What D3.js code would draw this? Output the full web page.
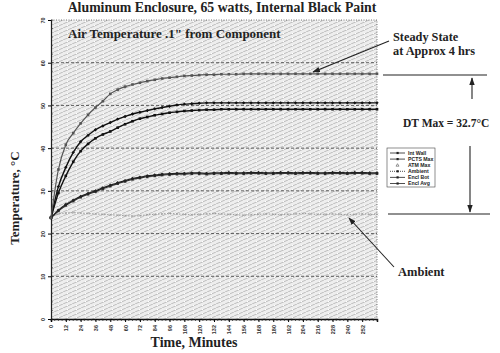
<!DOCTYPE html>
<html><head><meta charset="utf-8">
<script src="https://cdn.jsdelivr.net/npm/d3@7"></script>
<style>body{margin:0;background:#fff}svg{display:block}</style>
</head><body><svg id="c" width="500" height="353"></svg>
<script>
const times = [0,6,12,18,24,30,36,42,48,54,60,66,72,78,84,90,96,102,108,114,120,126,132,138,144,150,156,162,168,174,180,186,192,198,204,210,216,222,228,234,240,246,252,258,264];
const atmMax  = [23.7,35.0,40.8,43.5,45.8,47.8,49.5,51.0,52.7,53.7,54.4,54.9,55.3,55.7,56.0,56.3,56.5,56.7,56.9,57.0,57.1,57.2,57.2,57.3,57.3,57.3,57.4,57.4,57.4,57.4,57.4,57.4,57.4,57.4,57.4,57.4,57.4,57.4,57.4,57.4,57.4,57.4,57.4,57.4,57.4];
const pctsMax = [23.7,31.0,35.5,39.0,41.5,43.0,44.3,45.2,46.0,46.8,47.4,48.0,48.4,48.8,49.2,49.5,49.8,50.1,50.3,50.4,50.5,50.6,50.6,50.6,50.6,50.6,50.6,50.6,50.6,50.6,50.6,50.6,50.6,50.6,50.6,50.6,50.6,50.6,50.6,50.6,50.6,50.6,50.6,50.6,50.6];
const intWall = [23.7,29.5,33.5,36.8,39.3,41.0,42.3,43.2,43.9,44.8,45.6,46.3,46.9,47.3,47.7,48.0,48.3,48.5,48.7,48.8,48.9,49.0,49.0,49.1,49.1,49.1,49.1,49.1,49.1,49.1,49.1,49.1,49.1,49.1,49.1,49.1,49.1,49.1,49.1,49.1,49.1,49.1,49.1,49.1,49.1];
const enclBot = [23.7,25.5,26.8,27.8,28.7,29.4,30.0,30.7,31.3,31.9,32.4,32.9,33.2,33.5,33.7,33.9,34.0,34.1,34.1,34.2,34.2,34.1,34.2,34.2,34.3,34.2,34.2,34.3,34.3,34.2,34.2,34.3,34.3,34.2,34.3,34.3,34.2,34.2,34.3,34.3,34.2,34.3,34.3,34.2,34.2];
const enclAvg = [23.7,25.3,26.6,27.6,28.5,29.2,29.8,30.5,31.1,31.7,32.2,32.7,33.0,33.3,33.5,33.7,33.8,33.9,33.9,34.0,34.0,33.9,34.0,34.0,34.1,34.0,34.0,34.1,34.1,34.0,34.0,34.1,34.1,34.0,34.1,34.1,34.0,34.0,34.1,34.1,34.0,34.1,34.1,34.0,34.0];
const ambient = [23.8,24.6,24.8,24.9,24.8,24.7,24.6,24.5,24.4,24.3,24.2,24.1,24.2,24.4,24.5,24.6,24.7,24.6,24.5,24.4,24.5,24.6,24.7,24.6,24.5,24.4,24.3,24.4,24.5,24.6,24.5,24.4,24.5,24.6,24.7,24.6,24.5,24.5,24.6,24.5,24.4,24.5,24.6,24.5,24.5];
const legendNames = ["Int Wall","PCTS Max","ATM Max","Ambient","Encl Bot","Encl Avg"];
const xTicks = d3.range(0, 253, 12);
const yTicks = [0,10,20,30,40,50,60,70];

const svg = d3.select("#c");
const x = d3.scaleLinear().domain([0,264]).range([51,377]);
const y = d3.scaleLinear().domain([0,70]).range([319,20]);

// hatch pattern
const defs = svg.append("defs");
const pat = defs.append("pattern").attr("id","hatch").attr("patternUnits","userSpaceOnUse").attr("width",9).attr("height",4);
pat.append("rect").attr("width",9).attr("height",4).attr("fill","#eeeeee");
pat.append("path").attr("d","M0,4 L9,0 M-9,4 L0,0 M9,4 L18,0").attr("stroke","#a8a8a8").attr("stroke-width",0.7);
pat.append("rect").attr("x",4).attr("y",1).attr("width",1).attr("height",1).attr("fill","#fff");

svg.append("rect").attr("x",x(0)).attr("y",y(70)).attr("width",x(264)-x(0)).attr("height",y(0)-y(70)).attr("fill","url(#hatch)");
svg.append("path").attr("d",`M${x(0)},${y(70)}H${x(264)}V${y(0)}`).attr("fill","none").attr("stroke","#555").attr("stroke-width",0.8).attr("stroke-dasharray","1,1.5");
svg.append("g").selectAll("line").data(yTicks.filter(d=>d>0 && d<70)).join("line")
  .attr("x1",x(0)).attr("x2",x(264)).attr("y1",d=>y(d)).attr("y2",d=>y(d))
  .attr("stroke","#222").attr("stroke-width",0.7).attr("stroke-dasharray","3,2");

// axes
const yAx = svg.append("g").attr("transform",`translate(${x(0)},0)`).call(d3.axisLeft(y).tickValues(yTicks).tickSize(3).tickFormat(d3.format("d")));
yAx.select(".domain").attr("stroke","#222").attr("stroke-width",1.2);
yAx.selectAll("text").attr("font-family","Liberation Sans").attr("font-size",5.5).attr("font-weight","bold").attr("fill","#333")
   .attr("x",0).attr("y",0).attr("dy",null).attr("text-anchor","middle")
   .attr("transform","translate(-8,0) rotate(-90) translate(0,2)");
const xAx = svg.append("g").attr("transform",`translate(0,${y(0)})`).call(d3.axisBottom(x).tickValues(xTicks).tickSize(3).tickFormat(d3.format("d")));
xAx.select(".domain").attr("stroke","#111").attr("stroke-width",1.5);
xAx.selectAll("text").attr("font-family","Liberation Sans").attr("font-size",5.5).attr("font-weight","bold").attr("fill","#333")
   .attr("transform","rotate(-90)").attr("x",-6).attr("y",0).attr("dy","0.35em").attr("text-anchor","end");
svg.append("g").selectAll("line").data(d3.range(0,265,3)).join("line")
  .attr("x1",d=>x(d)).attr("x2",d=>x(d)).attr("y1",y(0)).attr("y2",y(0)+2).attr("stroke","#222").attr("stroke-width",0.7);
svg.append("g").selectAll("line").data(d3.range(0,71,2)).join("line")
  .attr("x1",x(0)).attr("x2",x(0)+2).attr("y1",d=>y(d)).attr("y2",d=>y(d)).attr("stroke","#333").attr("stroke-width",0.6);

// series
const line = d3.line().x((d,i)=>x(times[i])).y(d=>y(d)).curve(d3.curveMonotoneX);
const series = [
  {v:ambient, c:"#9a9a9a", w:1, dash:"1.5,1.5", m:"x"},
  {v:enclAvg, c:"#333", w:1.2, m:"sq"},
  {v:enclBot, c:"#222", w:1.2, m:"d"},
  {v:intWall, c:"#111", w:1.4, m:"sq"},
  {v:pctsMax, c:"#111", w:1.4, m:"d"},
  {v:atmMax, c:"#555", w:1.2, m:"sq"}
];
series.forEach(s=>{
  svg.append("path").attr("d",line(s.v)).attr("fill","none").attr("stroke",s.c).attr("stroke-width",s.w).attr("stroke-dasharray",s.dash||null);
  const g = svg.append("g");
  if(s.m==="x"){
    g.selectAll("path").data(s.v).join("path").attr("d",(d,i)=>{const cx=x(times[i]),cy=y(d);return `M${cx-1.2},${cy-1.2}L${cx+1.2},${cy+1.2}M${cx-1.2},${cy+1.2}L${cx+1.2},${cy-1.2}`;})
      .attr("stroke",s.c).attr("stroke-width",0.6);
  } else if(s.m==="d"){
    g.selectAll("path").data(s.v).join("path").attr("d",(d,i)=>{const cx=x(times[i]),cy=y(d);return `M${cx},${cy-1.7}L${cx+1.7},${cy}L${cx},${cy+1.7}L${cx-1.7},${cy}Z`;}).attr("fill",s.c);
  } else {
    g.selectAll("rect").data(s.v).join("rect").attr("x",(d,i)=>x(times[i])-1.3).attr("y",d=>y(d)-1.3).attr("width",2.6).attr("height",2.6).attr("fill",s.c);
  }
});

// titles
const serif = "Liberation Serif";
svg.append("text").attr("x",222).attr("y",12).attr("text-anchor","middle").attr("font-family",serif).attr("font-weight","bold").attr("font-size",13.8).attr("fill","#222")
  .text("Aluminum Enclosure, 65 watts, Internal Black Paint");
svg.append("text").attr("x",68).attr("y",38).attr("font-family",serif).attr("font-weight","bold").attr("font-size",13).attr("fill","#222")
  .text("Air Temperature .1\" from Component");
svg.append("text").attr("transform","translate(19,198) rotate(-90)").attr("text-anchor","middle").attr("font-family",serif).attr("font-weight","bold").attr("font-size",13).attr("fill","#222")
  .text("Temperature, °C");
svg.append("text").attr("x",194).attr("y",347).attr("text-anchor","middle").attr("font-family",serif).attr("font-weight","bold").attr("font-size",14).attr("fill","#222")
  .text("Time, Minutes");

// legend
const lg = svg.append("g").attr("transform","translate(387,148)");
lg.append("rect").attr("width",48).attr("height",39).attr("fill","#fff").attr("stroke","#444").attr("stroke-width",0.6);
const lmark = ["d","sq","t","x","sq","sq"];
legendNames.forEach((n,i)=>{
  const yy = 5 + i*6.1;
  lg.append("line").attr("x1",3).attr("x2",18).attr("y1",yy).attr("y2",yy).attr("stroke",i===2?"none":"#222").attr("stroke-width",0.8).attr("stroke-dasharray",i===3?"1,1":null);
  if(lmark[i]==="t") lg.append("path").attr("d",`M10.5,${yy-1.5}L12,${yy+1}L9,${yy+1}Z`).attr("fill","none").attr("stroke","#333").attr("stroke-width",0.5);
  else lg.append("rect").attr("x",9.5).attr("y",yy-1.1).attr("width",2.2).attr("height",2.2).attr("fill","#222");
  lg.append("text").attr("x",21).attr("y",yy+1.8).attr("font-family","Liberation Sans").attr("font-weight","bold").attr("font-size",5.2).attr("fill","#222").text(n);
});

// annotations
defs.append("marker").attr("id","ah").attr("viewBox","0 0 10 10").attr("refX",9).attr("refY",5).attr("markerWidth",7).attr("markerHeight",7).attr("orient","auto-start-reverse")
  .append("path").attr("d","M0,1.5L10,5L0,8.5Z").attr("fill","#222");
const ann = svg.append("g").attr("font-family",serif).attr("font-weight","bold").attr("fill","#222");
ann.append("text").attr("x",393).attr("y",41).attr("font-size",12.3).text("Steady State");
ann.append("text").attr("x",393).attr("y",55).attr("font-size",12.3).text("at Approx 4 hrs");
ann.append("text").attr("x",403).attr("y",127).attr("font-size",11.5).text("DT Max = 32.7°C");
ann.append("text").attr("x",398).attr("y",276).attr("font-size",12.5).text("Ambient");
function ln(x1,y1,x2,y2,arrow){const l=svg.append("line").attr("x1",x1).attr("y1",y1).attr("x2",x2).attr("y2",y2).attr("stroke","#222").attr("stroke-width",1.1); if(arrow) l.attr("marker-end","url(#ah)");}
ln(389,41,313,72,true);
ln(383,75,487,75);
ln(472,99,472,78,true);
ln(470,146,470,212,true);
ln(388,214,490,214);
ln(394,267,349,218,true);
</script></body></html>
